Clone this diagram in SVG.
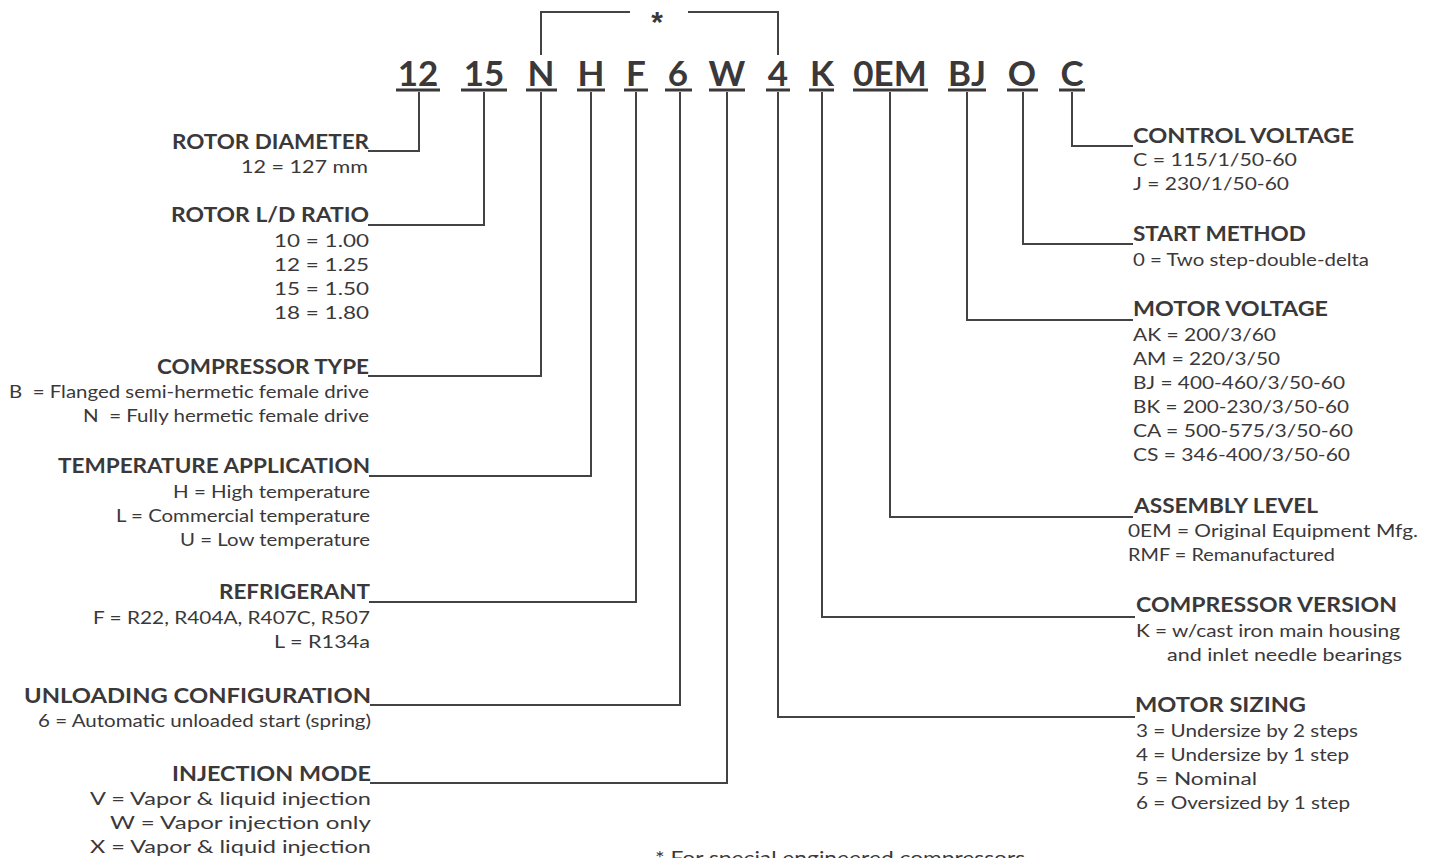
<svg xmlns="http://www.w3.org/2000/svg" width="1433" height="858" viewBox="0 0 1433 858">
<style>
text{font-family:Lato,"Open Sans","Liberation Sans",sans-serif;fill:#3b383a}
.code{font-size:35px;font-weight:700;text-anchor:middle}
.h{font-size:21px;font-weight:700}
.v{font-size:18px}
.l{text-anchor:end}
.ln{stroke:#454244;stroke-width:2;fill:none}
.ul{stroke:#3b383a;stroke-width:3}
</style>
<rect width="1433" height="858" fill="#fff"/>
<g id="connectors">
<path class="ln" d="M541 55V12H630M688 12H778V55"/>
<path class="ln" d="M419 92V151H368"/>
<path class="ln" d="M484 92V225H368"/>
<path class="ln" d="M541 92V376H368"/>
<path class="ln" d="M591 92V476H369"/>
<path class="ln" d="M636 92V602H369"/>
<path class="ln" d="M680 92V705H370"/>
<path class="ln" d="M727 92V783H370"/>
<path class="ln" d="M778 92V717H1135"/>
<path class="ln" d="M822 92V617H1135"/>
<path class="ln" d="M890 92V517H1133"/>
<path class="ln" d="M967 92V320H1133"/>
<path class="ln" d="M1023 92V244H1133"/>
<path class="ln" d="M1072 92V146H1133"/>
</g>
<g id="special"><text x="657" y="32" style="font-family:'Liberation Sans',Arial,sans-serif;font-size:30px;font-weight:700" text-anchor="middle">*</text></g>
<g id="rotor-diameter">
<text class="code" x="418" y="86">12</text><line class="ul" x1="396" y1="90" x2="440" y2="90"/>
<text class="h l" x="369" y="149" textLength="197" lengthAdjust="spacingAndGlyphs">ROTOR DIAMETER</text>
<text class="v l" x="368" y="173" textLength="127" lengthAdjust="spacingAndGlyphs">12 = 127 mm</text>
</g>
<g id="rotor-ld-ratio">
<text class="code" x="484" y="86">15</text><line class="ul" x1="461" y1="90" x2="507" y2="90"/>
<text class="h l" x="369" y="222" textLength="198" lengthAdjust="spacingAndGlyphs">ROTOR L/D RATIO</text>
<text class="v l" x="369" y="247" textLength="95" lengthAdjust="spacingAndGlyphs">10 = 1.00</text>
<text class="v l" x="369" y="271" textLength="95" lengthAdjust="spacingAndGlyphs">12 = 1.25</text>
<text class="v l" x="369" y="295" textLength="95" lengthAdjust="spacingAndGlyphs">15 = 1.50</text>
<text class="v l" x="369" y="319" textLength="95" lengthAdjust="spacingAndGlyphs">18 = 1.80</text>
</g>
<g id="compressor-type">
<text class="code" x="541" y="86">N</text><line class="ul" x1="526" y1="90" x2="557" y2="90"/>
<text class="h l" x="369" y="374" textLength="212" lengthAdjust="spacingAndGlyphs">COMPRESSOR TYPE</text>
<text class="v l" x="369" y="398" textLength="360" lengthAdjust="spacingAndGlyphs" xml:space="preserve">B  = Flanged semi-hermetic female drive</text>
<text class="v l" x="369" y="422" textLength="286" lengthAdjust="spacingAndGlyphs" xml:space="preserve">N  = Fully hermetic female drive</text>
</g>
<g id="temperature-application">
<text class="code" x="591" y="86">H</text><line class="ul" x1="577" y1="90" x2="605" y2="90"/>
<text class="h l" x="370" y="473" textLength="312" lengthAdjust="spacingAndGlyphs">TEMPERATURE APPLICATION</text>
<text class="v l" x="370" y="498" textLength="197" lengthAdjust="spacingAndGlyphs">H = High temperature</text>
<text class="v l" x="370" y="522" textLength="254" lengthAdjust="spacingAndGlyphs">L = Commercial temperature</text>
<text class="v l" x="370" y="546" textLength="190" lengthAdjust="spacingAndGlyphs">U = Low temperature</text>
</g>
<g id="refrigerant">
<text class="code" x="636" y="86">F</text><line class="ul" x1="624" y1="90" x2="648" y2="90"/>
<text class="h l" x="370" y="599" textLength="151" lengthAdjust="spacingAndGlyphs">REFRIGERANT</text>
<text class="v l" x="370" y="624" textLength="277" lengthAdjust="spacingAndGlyphs">F = R22, R404A, R407C, R507</text>
<text class="v l" x="370" y="648" textLength="96" lengthAdjust="spacingAndGlyphs">L = R134a</text>
</g>
<g id="unloading-configuration">
<text class="code" x="678" y="86">6</text><line class="ul" x1="665" y1="90" x2="692" y2="90"/>
<text class="h l" x="371" y="703" textLength="347" lengthAdjust="spacingAndGlyphs">UNLOADING CONFIGURATION</text>
<text class="v l" x="371" y="727" textLength="333" lengthAdjust="spacingAndGlyphs">6 = Automatic unloaded start (spring)</text>
</g>
<g id="injection-mode">
<text class="code" x="727" y="86">W</text><line class="ul" x1="709" y1="90" x2="745" y2="90"/>
<text class="h l" x="371" y="781" textLength="199" lengthAdjust="spacingAndGlyphs">INJECTION MODE</text>
<text class="v l" x="371" y="805" textLength="281" lengthAdjust="spacingAndGlyphs">V = Vapor &amp; liquid injection</text>
<text class="v l" x="371" y="829" textLength="261" lengthAdjust="spacingAndGlyphs">W = Vapor injection only</text>
<text class="v l" x="371" y="853" textLength="281" lengthAdjust="spacingAndGlyphs">X = Vapor &amp; liquid injection</text>
</g>
<g id="motor-sizing">
<text class="code" x="778" y="86">4</text><line class="ul" x1="766" y1="90" x2="790" y2="90"/>
<text class="h" x="1135" y="712" textLength="171" lengthAdjust="spacingAndGlyphs">MOTOR SIZING</text>
<text class="v" x="1136" y="737" textLength="222" lengthAdjust="spacingAndGlyphs">3 = Undersize by 2 steps</text>
<text class="v" x="1136" y="761" textLength="213" lengthAdjust="spacingAndGlyphs">4 = Undersize by 1 step</text>
<text class="v" x="1136" y="785" textLength="121" lengthAdjust="spacingAndGlyphs">5 = Nominal</text>
<text class="v" x="1136" y="809" textLength="214" lengthAdjust="spacingAndGlyphs">6 = Oversized by 1 step</text>
</g>
<g id="compressor-version">
<text class="code" x="822" y="86">K</text><line class="ul" x1="809" y1="90" x2="834" y2="90"/>
<text class="h" x="1136" y="612" textLength="261" lengthAdjust="spacingAndGlyphs">COMPRESSOR VERSION</text>
<text class="v" x="1136" y="637" textLength="264" lengthAdjust="spacingAndGlyphs">K = w/cast iron main housing</text>
<text class="v" x="1167" y="661" textLength="235" lengthAdjust="spacingAndGlyphs">and inlet needle bearings</text>
</g>
<g id="assembly-level">
<text class="code" x="890" y="86">0EM</text><line class="ul" x1="853" y1="90" x2="928" y2="90"/>
<text class="h" x="1134" y="513" textLength="184" lengthAdjust="spacingAndGlyphs">ASSEMBLY LEVEL</text>
<text class="v" x="1128" y="537" textLength="290" lengthAdjust="spacingAndGlyphs">0EM = Original Equipment Mfg.</text>
<text class="v" x="1128" y="561" textLength="207" lengthAdjust="spacingAndGlyphs">RMF = Remanufactured</text>
</g>
<g id="motor-voltage">
<text class="code" x="967" y="86">BJ</text><line class="ul" x1="948" y1="90" x2="986" y2="90"/>
<text class="h" x="1133" y="316" textLength="195" lengthAdjust="spacingAndGlyphs">MOTOR VOLTAGE</text>
<text class="v" x="1133" y="341" textLength="143" lengthAdjust="spacingAndGlyphs">AK = 200/3/60</text>
<text class="v" x="1133" y="365" textLength="147" lengthAdjust="spacingAndGlyphs">AM = 220/3/50</text>
<text class="v" x="1133" y="389" textLength="212" lengthAdjust="spacingAndGlyphs">BJ = 400-460/3/50-60</text>
<text class="v" x="1133" y="413" textLength="216" lengthAdjust="spacingAndGlyphs">BK = 200-230/3/50-60</text>
<text class="v" x="1133" y="437" textLength="220" lengthAdjust="spacingAndGlyphs">CA = 500-575/3/50-60</text>
<text class="v" x="1133" y="461" textLength="217" lengthAdjust="spacingAndGlyphs">CS = 346-400/3/50-60</text>
</g>
<g id="start-method">
<text class="code" x="1022" y="86">O</text><line class="ul" x1="1007" y1="90" x2="1038" y2="90"/>
<text class="h" x="1133" y="241" textLength="173" lengthAdjust="spacingAndGlyphs">START METHOD</text>
<text class="v" x="1133" y="266" textLength="236" lengthAdjust="spacingAndGlyphs">0 = Two step-double-delta</text>
</g>
<g id="control-voltage">
<text class="code" x="1072" y="86">C</text><line class="ul" x1="1059" y1="90" x2="1085" y2="90"/>
<text class="h" x="1133" y="143" textLength="221" lengthAdjust="spacingAndGlyphs">CONTROL VOLTAGE</text>
<text class="v" x="1133" y="166" textLength="164" lengthAdjust="spacingAndGlyphs">C = 115/1/50-60</text>
<text class="v" x="1133" y="190" textLength="156" lengthAdjust="spacingAndGlyphs">J = 230/1/50-60</text>
</g>
<g id="footnote">
<text x="655" y="865" style="font-size:20px" textLength="370" lengthAdjust="spacingAndGlyphs">* For special engineered compressors</text>
</g>
</svg>
